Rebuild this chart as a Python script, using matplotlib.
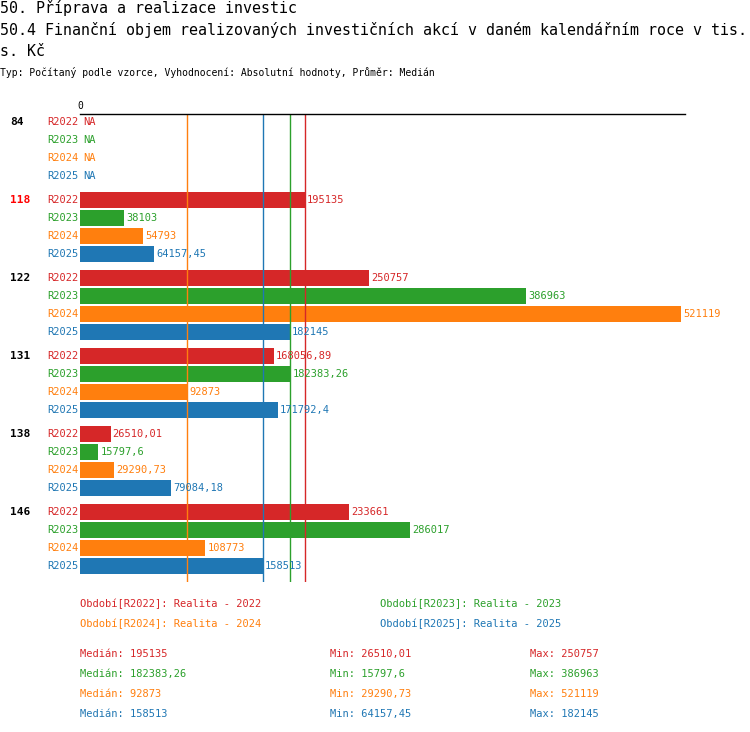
import matplotlib.pyplot as plt

groups = ["84", "118", "122", "131", "138", "146"]
series = ["R2022", "R2023", "R2024", "R2025"]
colors = ["#d62728", "#2ca02c", "#ff7f0e", "#1f77b4"]
values = [
    [None, None, None, None],
    [195135, 38103, 54793, 64157.45],
    [250757, 386963, 521119, 182145],
    [168056.89, 182383.26, 92873, 171792.4],
    [26510.01, 15797.6, 29290.73, 79084.18],
    [233661, 286017, 108773, 158513],
]
medians = [195135, 182383.26, 92873, 158513]
mins = [26510.01, 15797.6, 29290.73, 64157.45]
maxs = [250757, 386963, 521119, 182145]
legend = ["Období[R2022]: Realita - 2022", "Období[R2023]: Realita - 2023",
          "Období[R2024]: Realita - 2024", "Období[R2025]: Realita - 2025"]


def fmt(v):
    s = ("%.2f" % v).rstrip("0").rstrip(".")
    return s.replace(".", ",")


plt.rcParams["font.family"] = "DejaVu Sans Mono"
W, H = 750, 732
fig = plt.figure(figsize=(W / 100, H / 100), dpi=100)
x0, x1, ytop, ybot = 80, 685, 114, 582
ax = fig.add_axes([x0 / W, 1 - ybot / H, (x1 - x0) / W, (ybot - ytop) / H])
xmax = 521119 * (x1 - x0) / 601
ax.set_xlim(0, xmax)
ax.set_ylim(ybot, ytop)
for s in ["right", "bottom", "left"]:
    ax.spines[s].set_visible(False)
ax.spines["top"].set_linewidth(1)
ax.set_xticks([])
ax.set_yticks([])
ax.text(0, ytop - 3, "0", ha="center", va="bottom", fontsize=7)


def fx(px):
    return px / W


def fy(py):
    return 1 - py / H


for g, name in enumerate(groups):
    for k, ser in enumerate(series):
        y = 122 + g * 78 + k * 18
        v = values[g][k]
        fig.text(fx(78), fy(y), ser, color=colors[k], fontsize=7.5, ha="right", va="center")
        if v is None:
            ax.text(xmax * 3 / 605, y, "NA", color=colors[k], fontsize=7.5, va="center")
        else:
            ax.barh(y, v, height=16, color=colors[k])
            ax.text(v + xmax * 2 / 605, y, fmt(v), color=colors[k], fontsize=7.5, va="center")
    fig.text(fx(10), fy(122 + g * 78), name, fontsize=8, weight="bold",
             color="red" if name == "118" else "black", va="center")

for m, c in zip(medians, colors):
    ax.axvline(m, color=c, lw=1)

fig.text(0, fy(8), "50. Příprava a realizace investic", fontsize=10.8, va="center")
fig.text(0, fy(30), "50.4 Finanční objem realizovaných investičních akcí v daném kalendářním roce v tis.", fontsize=10.8, va="center")
fig.text(0, fy(51), "s. Kč", fontsize=10.8, va="center")
fig.text(0, fy(73), "Typ: Počítaný podle vzorce, Vyhodnocení: Absolutní hodnoty, Průměr: Medián", fontsize=7, va="center")

for i, t in enumerate(legend):
    fig.text(fx(80 + 300 * (i % 2)), fy(604 + 20 * (i // 2)), t, color=colors[i], fontsize=7.5, va="center")
for i in range(4):
    y = fy(654 + 20 * i)
    fig.text(fx(80), y, "Medián: " + fmt(medians[i]), color=colors[i], fontsize=7.5, va="center")
    fig.text(fx(330), y, "Min: " + fmt(mins[i]), color=colors[i], fontsize=7.5, va="center")
    fig.text(fx(530), y, "Max: " + fmt(maxs[i]), color=colors[i], fontsize=7.5, va="center")

fig.savefig("out.png", dpi=100)
